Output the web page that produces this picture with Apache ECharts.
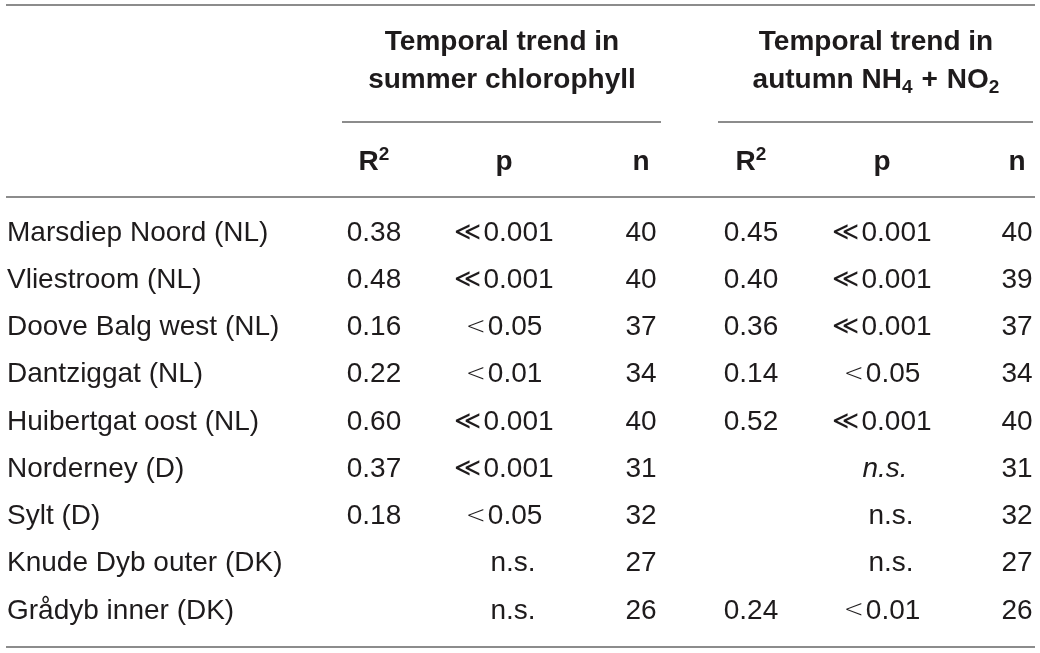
<!DOCTYPE html>
<html><head><meta charset="utf-8">
<script src="https://cdn.jsdelivr.net/npm/echarts@6/dist/echarts.min.js"></script>
<style>html,body{margin:0;padding:0;background:#fff}#c{width:1040px;height:653px}</style>
</head><body><div id="c"></div>
<script>
// ---- data ----
const sites = ['Marsdiep Noord (NL)','Vliestroom (NL)','Doove Balg west (NL)','Dantziggat (NL)','Huibertgat oost (NL)','Norderney (D)','Sylt (D)','Knude Dyb outer (DK)','Grådyb inner (DK)'];
const r2Chl = [0.38,0.48,0.16,0.22,0.60,0.37,0.18,null,null];
const pChl  = ['≪0.001','≪0.001','<0.05','<0.01','≪0.001','≪0.001','<0.05','n.s.','n.s.'];
const nChl  = [40,40,37,34,40,31,32,27,26];
const r2Nut = [0.45,0.40,0.36,0.14,0.52,null,null,null,0.24];
const pNut  = ['≪0.001','≪0.001','≪0.001','<0.05','≪0.001','n.s.','n.s.','n.s.','<0.01'];
const nNut  = [40,39,37,34,40,31,32,27,26];
const pNutItalic = [false,false,false,false,false,true,false,false,false];
const groupChl = ['{b|Temporal trend in}','{b|summer chlorophyll}'];
const groupNut = ['{b|Temporal trend in}','{b|autumn NH}{sub|4}{pl|+}{b|NO}{sub|2}'];
const colHeads = ['{b|R}{sup|2}','{b|p}','{b|n}'];

// ---- layout ----
const FONT = '"Liberation Sans", Arial, Helvetica, sans-serif';
const TXT = '#1e1b1c';
const colX = {site:7, r2a:374, pa:504, na:641, r2b:751, pb:882, nb:1017};
const groupX = [502, 876];
const titleY = [42, 80];
const headY = 162;
const rowY0 = 233, rowStep = 47.25;
const rules = [[6,1035,5],[342,661,122],[718,1033,122],[6,1035,197],[6,1035,647]];

const chart = echarts.init(document.getElementById('c'));

const cellRich = {
  ll:{fontFamily:'"DejaVu Sans"', fontWeight:200, fontSize:26, color:TXT, padding:[0,2,0,0]},
  lt:{fontFamily:'"DejaVu Sans"', fontWeight:200, fontSize:24, color:TXT, padding:[0,2,0,0]}
};
function cellSeries(x, values, align, fmt, italic) {
  const data = [];
  values.forEach((v,i) => {
    if (v === null || v === undefined) return;
    const item = {value:[x, rowY0 + i*rowStep, fmt ? fmt(v) : String(v)]};
    const it = italic && italic[i];
    if (it) item.label = {fontStyle:'italic'};
    if (v === 'n.s.') item.label = Object.assign(item.label || {}, {offset:[it ? 3 : 9, 0]});
    data.push(item);
  });
  return {type:'scatter', data, symbolSize:0, silent:true, z:3,
    itemStyle:{opacity:1},
    label:{show:true, position:'inside', align, verticalAlign:'middle', color:TXT, opacity:1,
      fontFamily:FONT, fontSize:28, rich:cellRich,
      formatter:p => p.value[2].replace('≪','{ll|≪}').replace(/^</,'{lt|<}')}};
}
const f2 = v => v.toFixed(2);

const richStyles = {
  b:{fontSize:28, fontWeight:'bold', lineHeight:34, color:TXT, fontFamily:FONT},
  pl:{fontSize:28, fontWeight:'bold', lineHeight:34, color:TXT, fontFamily:FONT, padding:[0,9,0,9]},
  sub:{fontSize:19, fontWeight:'bold', lineHeight:18, verticalAlign:'bottom', color:TXT, fontFamily:FONT},
  sup:{fontSize:19, fontWeight:'bold', lineHeight:22, verticalAlign:'top', color:TXT, fontFamily:FONT}
};
const headData = [];
groupChl.forEach((t,i) => headData.push([groupX[0], titleY[i], t]));
groupNut.forEach((t,i) => headData.push([groupX[1], titleY[i], t]));
[colX.r2a, colX.pa, colX.na].forEach((x,i) => headData.push([x, headY, colHeads[i]]));
[colX.r2b, colX.pb, colX.nb].forEach((x,i) => headData.push([x, headY, colHeads[i]]));

chart.setOption({
  animation:false,
  backgroundColor:'#fff',
  grid:{left:0,right:0,top:0,bottom:0},
  xAxis:{type:'value', min:0, max:1040, show:false},
  yAxis:{type:'value', min:0, max:653, inverse:true, show:false},
  series:[
    {type:'lines', coordinateSystem:'cartesian2d', silent:true, z:1,
      lineStyle:{color:'#8c8c8c', width:2, opacity:1},
      data: rules.map(r => ({coords:[[r[0], r[2]], [r[1], r[2]]]}))},
    {type:'scatter', data:headData, symbolSize:0, silent:true, z:3,
      itemStyle:{opacity:1},
      label:{show:true, position:'inside', align:'center', verticalAlign:'middle', opacity:1,
        formatter:p => p.value[2], rich:richStyles}},
    cellSeries(colX.site, sites, 'left'),
    cellSeries(colX.r2a, r2Chl, 'center', f2),
    cellSeries(colX.pa, pChl, 'center'),
    cellSeries(colX.na, nChl, 'center'),
    cellSeries(colX.r2b, r2Nut, 'center', f2),
    cellSeries(colX.pb, pNut, 'center', null, pNutItalic),
    cellSeries(colX.nb, nNut, 'center')
  ]
});
</script></body></html>
